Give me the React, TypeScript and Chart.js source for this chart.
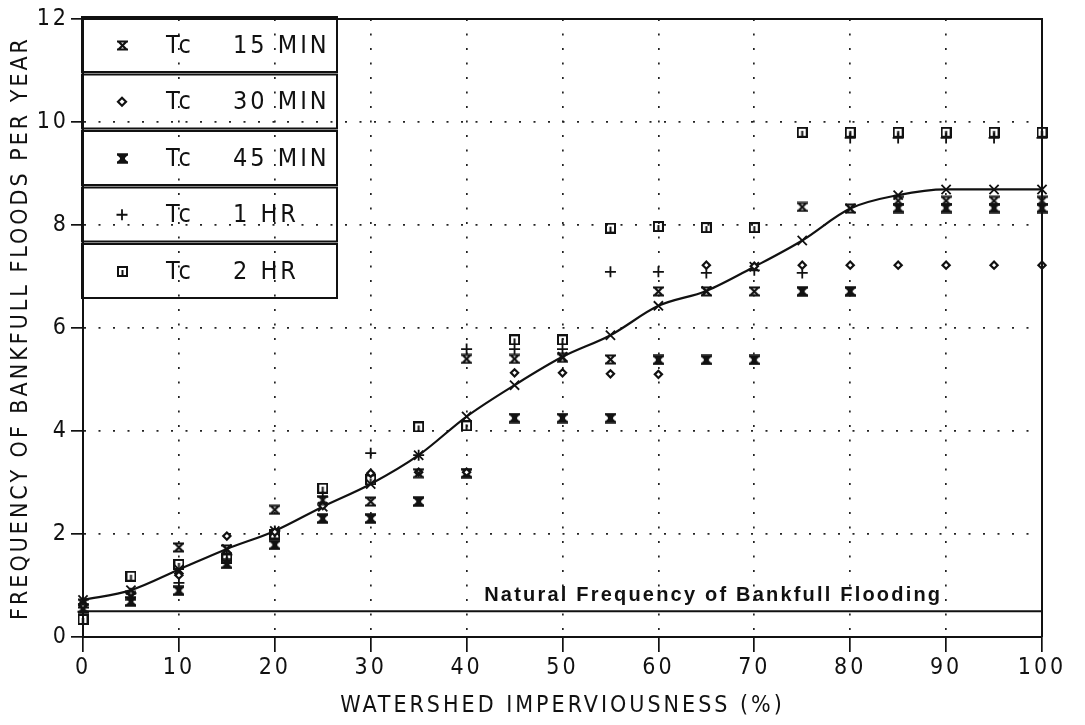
import React, { useEffect, useRef } from "react";
import { Chart, registerables } from "chart.js";

Chart.register(...registerables);

// ---------------- DATA ----------------
const imperviousness = [0, 5, 10, 15, 20, 25, 30, 35, 40, 45, 50, 55, 60, 65, 70, 75, 80, 85, 90, 95, 100];

const fittedCurve = [0.72, 0.91, 1.31, 1.71, 2.06, 2.53, 2.97, 3.53, 4.28, 4.89, 5.44, 5.86, 6.43, 6.72, 7.19, 7.7, 8.32, 8.58, 8.69, 8.69, 8.69];

const tc15Min = [0.65, 0.8, 1.74, 1.7, 2.47, 2.66, 2.63, 3.18, 5.4, 5.4, 5.42, 5.39, 6.71, 6.71, 6.71, 8.35, 8.32, 8.47, 8.47, 8.47, 8.47];
const tc30Min = [0.62, 0.85, 1.2, 1.96, 2.04, 2.55, 3.18, 3.2, 3.2, 5.13, 5.13, 5.11, 5.1, 7.22, 7.2, 7.22, 7.22, 7.22, 7.22, 7.22, 7.22];
const tc45Min = [0.55, 0.69, 0.9, 1.42, 1.79, 2.3, 2.3, 2.63, 3.18, 4.25, 4.25, 4.25, 5.38, 5.38, 5.38, 6.71, 6.71, 8.33, 8.33, 8.33, 8.33];
const tc1Hr = [0.49, 0.85, 1.05, 1.6, 2.06, 2.72, 3.57, 3.53, 5.59, 5.59, 5.59, 7.09, 7.09, 7.07, 7.12, 7.07, 9.69, 9.69, 9.69, 9.69, 9.69];
const tc2Hr = [0.34, 1.18, 1.41, 1.53, 2.0, 2.89, 3.05, 4.08, 4.1, 5.77, 5.77, 7.94, 7.97, 7.95, 7.95, 9.8, 9.8, 9.8, 9.8, 9.8, 9.8];

const seriesLabels = ["Tc 15 MIN", "Tc 30 MIN", "Tc 45 MIN", "Tc 1 HR", "Tc 2 HR"];

const naturalFrequency = 0.5;
const naturalFrequencyLabel = "Natural Frequency of Bankfull Flooding";
const naturalLabelEndX = 89.6;

const xTickValues = [0, 10, 20, 30, 40, 50, 60, 70, 80, 90, 100];
const yTickValues = [0, 2, 4, 6, 8, 10, 12];

const xAxisTitle = "WATERSHED IMPERVIOUSNESS (%)";
const yAxisTitle = "FREQUENCY OF BANKFULL FLOODS PER YEAR";

// ---------------- STYLE ----------------
const INK = "#111111";
const PLOT_FONT = "'Liberation Sans Narrow', 'DejaVu Sans Condensed', 'Roboto Condensed', 'Liberation Sans', sans-serif";
const LABEL_FONT = "'Liberation Sans', Arial, sans-serif";

function makeMarker(size: number, draw: (ctx: CanvasRenderingContext2D, s: number) => void) {
  const c = document.createElement("canvas");
  c.width = size;
  c.height = size;
  const ctx = c.getContext("2d") as CanvasRenderingContext2D;
  ctx.strokeStyle = INK;
  ctx.fillStyle = INK;
  ctx.lineCap = "butt";
  draw(ctx, size);
  return c;
}

function hourglass(ctx: CanvasRenderingContext2D, s: number, lw: number, bold: boolean) {
  const a = 1.5;
  const b = s - 1.5;
  ctx.lineWidth = lw;
  ctx.beginPath();
  ctx.moveTo(a, a);
  ctx.lineTo(b, b);
  ctx.moveTo(b, a);
  ctx.lineTo(a, b);
  ctx.moveTo(0, a);
  ctx.lineTo(s, a);
  ctx.moveTo(0, b);
  ctx.lineTo(s, b);
  if (bold) {
    ctx.moveTo(s / 2, a);
    ctx.lineTo(s / 2, b);
  }
  ctx.stroke();
  if (bold) {
    ctx.fillRect(s / 2 - 2.5, s / 2 - 2.5, 5, 5);
  }
}

export default function App() {
  const canvasRef = useRef<HTMLCanvasElement | null>(null);

  useEffect(() => {
    document.body.style.margin = "0";
    const canvas = canvasRef.current;
    if (!canvas) return;

    const marker15 = makeMarker(11, (ctx, s) => hourglass(ctx, s, 2.2, false));
    const marker45 = makeMarker(11, (ctx, s) => hourglass(ctx, s, 2.6, true));
    const marker2h = makeMarker(11, (ctx) => {
      ctx.lineWidth = 2;
      ctx.strokeRect(1, 1, 9, 9);
      ctx.beginPath();
      ctx.moveTo(5.5, 4);
      ctx.lineTo(5.5, 9);
      ctx.stroke();
    });

    const toPoints = (arr: number[]) => imperviousness.map((x, i) => ({ x, y: arr[i] }));

    const scatterBase = {
      showLine: false,
      borderColor: INK,
      backgroundColor: "#ffffff",
      clip: false as const,
    };

    const datasets: any[] = [
      { ...scatterBase, label: seriesLabels[0], data: toPoints(tc15Min), pointStyle: marker15, pointRadius: 5, borderWidth: 1.5 },
      { ...scatterBase, label: seriesLabels[1], data: toPoints(tc30Min), pointStyle: "rectRot", pointRadius: 3.6, borderWidth: 2.2 },
      { ...scatterBase, label: seriesLabels[2], data: toPoints(tc45Min), pointStyle: marker45, pointRadius: 5, borderWidth: 1.5 },
      { ...scatterBase, label: seriesLabels[3], data: toPoints(tc1Hr), pointStyle: "cross", pointRadius: 5.5, borderWidth: 1.8 },
      { ...scatterBase, label: seriesLabels[4], data: toPoints(tc2Hr), pointStyle: marker2h, pointRadius: 5, borderWidth: 1.5 },
      {
        label: "curve",
        data: toPoints(fittedCurve),
        showLine: true,
        cubicInterpolationMode: "monotone",
        borderColor: INK,
        borderWidth: 2.2,
        pointStyle: "crossRot",
        pointRadius: 6.5,
        pointBorderWidth: 1.8,
        pointBorderColor: INK,
        backgroundColor: INK,
        clip: false,
      },
      {
        label: "natural",
        data: [
          { x: xTickValues[0], y: naturalFrequency },
          { x: xTickValues[xTickValues.length - 1], y: naturalFrequency },
        ],
        showLine: true,
        borderColor: INK,
        borderWidth: 2,
        pointRadius: 0,
      },
    ];

    const markers = [marker15, "rectRot", marker45, "cross", marker2h];

    const decorPlugin = {
      id: "decor",
      beforeDraw(chart: any) {
        const ctx = chart.ctx;
        ctx.save();
        ctx.fillStyle = "#ffffff";
        ctx.fillRect(0, 0, chart.width, chart.height);
        ctx.restore();
        (ctx as any).letterSpacing = "3px";
      },
      beforeDatasetsDraw(chart: any) {
        (chart.ctx as any).letterSpacing = "0px";
      },
      afterDraw(chart: any) {
        const ctx = chart.ctx as CanvasRenderingContext2D;
        const { left, right, top, bottom } = chart.chartArea;
        const xs = chart.scales.x;
        const ys = chart.scales.y;
        ctx.save();
        // solid frame (top + right)
        ctx.strokeStyle = INK;
        ctx.lineWidth = 2;
        ctx.setLineDash([]);
        ctx.beginPath();
        ctx.moveTo(left, top);
        ctx.lineTo(right, top);
        ctx.lineTo(right, bottom);
        ctx.stroke();

        // Natural frequency label
        (ctx as any).letterSpacing = "2.2px";
        ctx.font = `bold 20px ${LABEL_FONT}`;
        ctx.fillStyle = INK;
        ctx.textAlign = "right";
        ctx.textBaseline = "alphabetic";
        ctx.fillText(naturalFrequencyLabel, xs.getPixelForValue(naturalLabelEndX), ys.getPixelForValue(naturalFrequency) - 10);

        // Legend table
        const lx0 = left - 1;
        const lx1 = 337;
        const rowTop = top - 2;
        const rowH = 56.5;
        ctx.lineWidth = 2;
        for (let i = 0; i < seriesLabels.length; i++) {
          const y0 = rowTop + i * rowH;
          ctx.strokeRect(lx0, y0 + (i === 0 ? 0 : 1), lx1 - lx0, rowH - (i === 0 ? 1.5 : 2.5));
          const cy = y0 + rowH / 2;
          const m = markers[i];
          if (typeof m === "string") {
            ctx.save();
            ctx.lineWidth = m === "rectRot" ? 2.2 : 1.8;
            ctx.beginPath();
            if (m === "rectRot") {
              ctx.moveTo(122, cy - 4);
              ctx.lineTo(126, cy);
              ctx.lineTo(122, cy + 4);
              ctx.lineTo(118, cy);
              ctx.closePath();
            } else {
              ctx.moveTo(116.5, cy);
              ctx.lineTo(127.5, cy);
              ctx.moveTo(122, cy - 5.5);
              ctx.lineTo(122, cy + 5.5);
            }
            ctx.stroke();
            ctx.restore();
          } else {
            ctx.drawImage(m as HTMLCanvasElement, 117, Math.round(cy - 5.5));
          }
          const parts = seriesLabels[i].split(" ");
          const head = parts[0];
          const rest = parts.slice(1).join(" ");
          (ctx as any).letterSpacing = "3px";
          ctx.font = `25px ${PLOT_FONT}`;
          ctx.textAlign = "left";
          ctx.textBaseline = "middle";
          ctx.fillText(head, 166, cy + 1);
          ctx.fillText(rest, 233, cy + 1);
        }
        ctx.restore();
        (ctx as any).letterSpacing = "0px";
      },
    };

    const chart = new Chart(canvas, {
      type: "scatter",
      data: { datasets },
      options: {
        animation: false,
        responsive: false,
        events: [],
        layout: { padding: { left: 0, right: 43, top: 19, bottom: 0 } },
        plugins: {
          legend: { display: false },
          tooltip: { enabled: false },
        },
        scales: {
          x: {
            type: "linear",
            min: 0,
            max: 100,
            afterFit: (s: any) => {
              s.height = 88;
            },
            afterBuildTicks: (s: any) => {
              s.ticks = xTickValues.map((value) => ({ value }));
            },
            ticks: {
              color: INK,
              font: { family: PLOT_FONT, size: 23 },
              padding: 2,
              maxRotation: 0,
            },
            grid: {
              color: "#222222",
              lineWidth: 1.7,
              tickLength: 15,
              tickColor: INK,
              tickWidth: 1.7,
            },
            border: { color: INK, width: 2, dash: [2, 12.5] },
            title: {
              display: true,
              text: xAxisTitle,
              color: INK,
              font: { family: PLOT_FONT, size: 23 },
              padding: { top: 0, bottom: 5 },
            },
          },
          y: {
            type: "linear",
            min: 0,
            max: 12,
            afterFit: (s: any) => {
              s.width = 83;
            },
            afterBuildTicks: (s: any) => {
              s.ticks = yTickValues.map((value) => ({ value }));
            },
            ticks: {
              color: INK,
              font: { family: PLOT_FONT, size: 23 },
              padding: 2,
            },
            grid: {
              color: "#222222",
              lineWidth: 1.7,
              tickLength: 12,
              tickColor: INK,
              tickWidth: 1.7,
            },
            border: { color: INK, width: 2, dash: [2, 12.5] },
            title: {
              display: true,
              text: yAxisTitle,
              color: INK,
              font: { family: PLOT_FONT, size: 23 },
              padding: { top: 7, bottom: 0 },
            },
          },
        },
      },
      plugins: [decorPlugin],
    } as any);

    return () => {
      chart.destroy();
    };
  }, []);

  return (
    <div style={{ width: 1085, height: 725, position: "relative", background: "#fff" }}>
      <canvas ref={canvasRef} width={1085} height={725} style={{ display: "block" }} />
    </div>
  );
}
